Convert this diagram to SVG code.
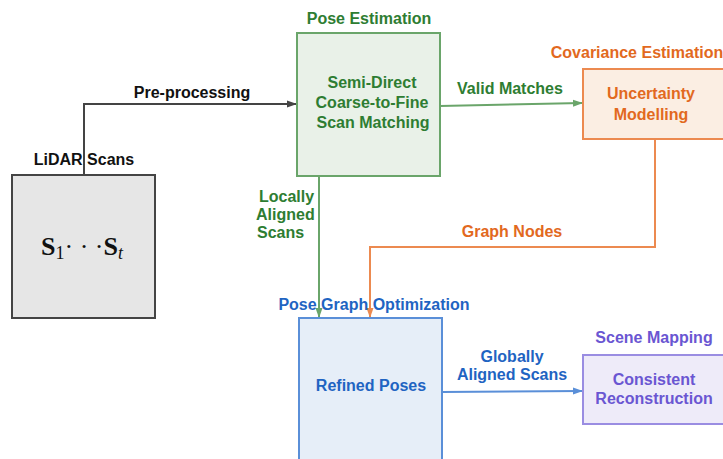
<svg xmlns="http://www.w3.org/2000/svg" width="723" height="459" viewBox="0 0 723 459">
<defs>
<style>
text{font-family:"Liberation Sans",Arial,sans-serif;font-weight:bold;font-size:16px;text-anchor:middle}
.k{fill:#111}
.g{fill:#2e7d32}
.o{fill:#e2691e}
.b{fill:#1f64c2}
.p{fill:#6a56d2}
.ln{fill:none;stroke-width:2}
</style>
<marker id="ak" markerWidth="10" markerHeight="8" refX="9" refY="4" orient="auto" markerUnits="userSpaceOnUse"><path d="M0,0.5 L10,4 L0,7.5 Z" fill="#444"/></marker>
<marker id="ag" markerWidth="10" markerHeight="8" refX="9" refY="4" orient="auto" markerUnits="userSpaceOnUse"><path d="M0,0.5 L10,4 L0,7.5 Z" fill="#6aa56a"/></marker>
<marker id="ao" markerWidth="10" markerHeight="8" refX="9" refY="4" orient="auto" markerUnits="userSpaceOnUse"><path d="M0,0.5 L10,4 L0,7.5 Z" fill="#ec8a50"/></marker>
<marker id="ab" markerWidth="10" markerHeight="8" refX="9" refY="4" orient="auto" markerUnits="userSpaceOnUse"><path d="M0,0.5 L10,4 L0,7.5 Z" fill="#5a8fd8"/></marker>
</defs>
<rect width="723" height="459" fill="#fff"/>

<g id="connectors">
<path class="ln" d="M84,175 V104 H296" stroke="#444" marker-end="url(#ak)"/>
<path class="ln" d="M440,106 L582,103" stroke="#6aa56a" marker-end="url(#ag)"/>
<path class="ln" d="M319,176 V317" stroke="#6aa56a" marker-end="url(#ag)"/>
<path class="ln" d="M655,139 V247 H370 V317" stroke="#ec8a50" marker-end="url(#ao)"/>
<path class="ln" d="M442,392 L582,391" stroke="#5a8fd8" marker-end="url(#ab)"/>
<text x="192" y="98" class="k">Pre-processing</text>
<text x="510" y="94" class="g">Valid Matches</text>
<text x="259" y="202" class="g" style="text-anchor:start">Locally</text>
<text x="256" y="220" class="g" style="text-anchor:start">Aligned</text>
<text x="257" y="238" class="g" style="text-anchor:start">Scans</text>
<text x="512" y="237" class="o">Graph Nodes</text>
<text x="512" y="362" class="b">Globally</text>
<text x="512" y="380" class="b">Aligned Scans</text>
</g>

<g id="lidar">
<text x="84" y="165" class="k">LiDAR Scans</text>
<rect x="12" y="175" width="143" height="143" fill="#e6e6e6" stroke="#444" stroke-width="2"/>
<text x="82" y="255" style="font-family:'Liberation Serif','DejaVu Serif',serif;font-size:26px;fill:#111">S<tspan font-size="18" font-weight="normal" dy="4">1</tspan><tspan dy="-4" font-weight="normal">· · ·</tspan>S<tspan font-size="18" font-weight="normal" font-style="italic" dy="4">t</tspan></text>
</g>

<g id="pose-estimation">
<text x="369" y="24" class="g">Pose Estimation</text>
<rect x="297" y="33" width="143" height="143" fill="#e9f1e8" stroke="#6aa56a" stroke-width="2"/>
<text x="372" y="88" class="g">Semi-Direct</text>
<text x="372" y="108" class="g">Coarse-to-Fine</text>
<text x="373" y="128" class="g">Scan Matching</text>
</g>

<g id="covariance">
<text x="637" y="58" class="o">Covariance Estimation</text>
<rect x="583" y="69" width="145" height="70" fill="#fbeee3" stroke="#ec8a50" stroke-width="2"/>
<text x="651" y="99" class="o">Uncertainty</text>
<text x="651" y="120" class="o">Modelling</text>
</g>

<g id="pose-graph">
<text x="374" y="310" class="b">Pose Graph Optimization</text>
<rect x="299" y="318" width="143" height="150" fill="#e6eef8" stroke="#5a8fd8" stroke-width="2"/>
<text x="371" y="391" class="b">Refined Poses</text>
</g>

<g id="scene-mapping">
<text x="654" y="343" class="p">Scene Mapping</text>
<rect x="583" y="355" width="145" height="69" fill="#eeebf9" stroke="#9a8de2" stroke-width="2"/>
<text x="654" y="385" class="p">Consistent</text>
<text x="654" y="404" class="p">Reconstruction</text>
</g>
</svg>
